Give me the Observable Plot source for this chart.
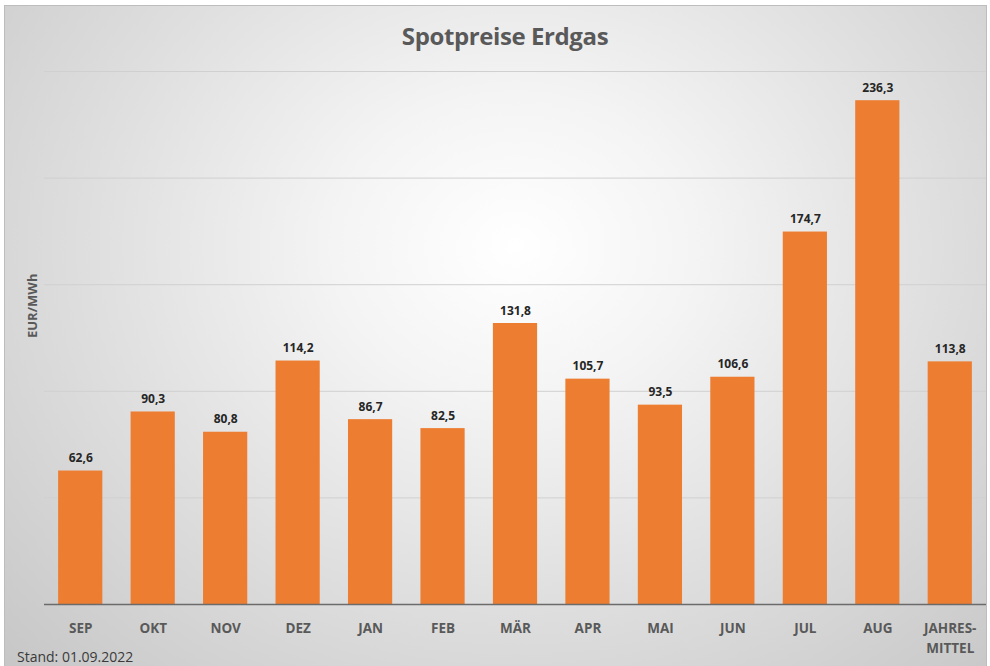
<!DOCTYPE html>
<html>
<head>
<meta charset="utf-8">
<script src="https://cdn.jsdelivr.net/npm/d3@7"></script>
<script src="https://cdn.jsdelivr.net/npm/@observablehq/plot@0.6"></script>
<style>
  html, body { margin: 0; padding: 0; background: #ffffff; }
  #chart {
    position: relative; width: 990px; height: 666px; overflow: hidden;
    font-family: "Open Sans", sans-serif;
  }
  #frame {
    position: absolute; left: 4px; top: 5px; width: 983px; height: 670px;
    border: 1px solid #bdbdbd; box-sizing: border-box;
    background: radial-gradient(ellipse farthest-corner at 52% 36%, #ffffff 0%, #f4f4f4 25%, #dedede 60%, #c6c6c6 100%);
  }
  #title {
    position: absolute; left: 0; width: 1010px; top: 19px; text-align: center;
    font-size: 24px; font-weight: bold; color: #595959; letter-spacing: -0.4px;
  }
  #plot { position: absolute; left: 0; top: 0; }
  #caption {
    position: absolute; left: 17px; top: 647px; font-size: 14px; color: #3a3a3a;
  }
</style>
</head>
<body>
<div id="chart">
  <div id="frame"></div>
  <div id="title">Spotpreise Erdgas</div>
  <div id="plot"></div>
  <div id="caption">Stand: 01.09.2022</div>
</div>
<script>
const categories = ["SEP","OKT","NOV","DEZ","JAN","FEB","MÄR","APR","MAI","JUN","JUL","AUG","JAHRESMITTEL"];
const tickLabels = ["SEP","OKT","NOV","DEZ","JAN","FEB","MÄR","APR","MAI","JUN","JUL","AUG","JAHRES-\nMITTEL"];
const values = [62.6, 90.3, 80.8, 114.2, 86.7, 82.5, 131.8, 105.7, 93.5, 106.6, 174.7, 236.3, 113.8];
const gridValues = [50, 100, 150, 200, 250];
const yLabel = "EUR/MWh";

const data = categories.map((c, i) => ({cat: c, value: values[i]}));
const labelOf = new Map(categories.map((c, i) => [c, tickLabels[i]]));
const fmt = v => v.toFixed(1).replace(".", ",");

const chart = Plot.plot({
  width: 990,
  height: 666,
  marginTop: 71,
  marginBottom: 62,
  marginLeft: 44,
  marginRight: 4,
  style: {background: "transparent", fontFamily: "Open Sans, sans-serif", overflow: "visible"},
  x: {domain: categories, paddingInner: 0.39, paddingOuter: 0.195, round: false, label: null},
  y: {domain: [0, 250], label: null},
  marks: [
    Plot.ruleY(gridValues, {stroke: "#d0d0d0", strokeWidth: 1}),
    Plot.barY(data, {x: "cat", y: "value", fill: "#ED7D31"}),
    Plot.ruleY([0], {stroke: "#6b6b6b", strokeWidth: 1.6}),
    Plot.text(data, {x: "cat", y: "value", text: d => fmt(d.value), lineAnchor: "bottom", dy: -9,
      fontSize: 12, fontWeight: "bold", fill: "#262626"}),
    Plot.axisX({tickSize: 0, tickPadding: 15, tickFormat: d => labelOf.get(d), fontSize: 13.5,
      fontWeight: "bold", fill: "#595959", lineHeight: 1.45, label: null}),
    Plot.axisY({ticks: [], label: null}),
    Plot.text([yLabel], {frameAnchor: "left", text: d => d, rotate: -90, dx: -12,
      fontSize: 13, fontWeight: "bold", fill: "#595959"})
  ]
});
document.getElementById("plot").appendChild(chart);
</script>
</body>
</html>
